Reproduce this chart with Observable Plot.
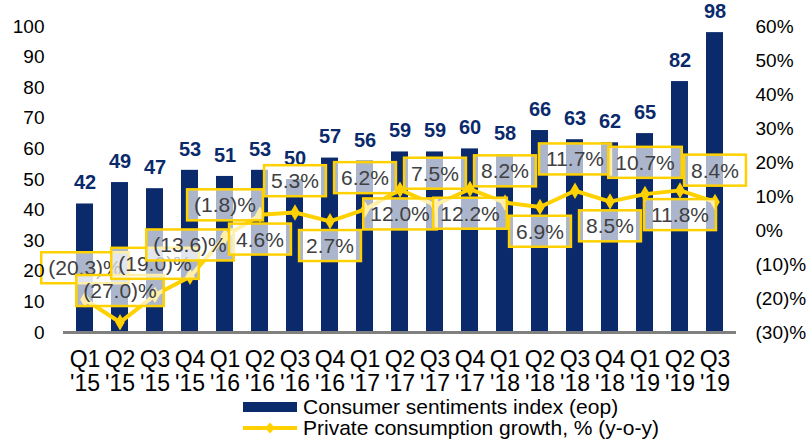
<!DOCTYPE html>
<html><head><meta charset="utf-8">
<script src="https://cdn.jsdelivr.net/npm/d3@7"></script>
<script src="https://cdn.jsdelivr.net/npm/@observablehq/plot@0.6"></script>
<style>
body{margin:0;background:#fff;font-family:"Liberation Sans",Arial,sans-serif;}
#wrap{position:relative;width:812px;height:440px;overflow:hidden;}
#legend{position:absolute;left:0;top:395px;width:812px;height:45px;font-size:21px;color:#000;}
.li{position:absolute;left:243px;display:flex;align-items:center;height:22px;}
.li span{margin-left:6px;white-space:nowrap;}
</style></head><body><div id="wrap"><div id="chart"></div>
<div id="legend">
 <div class="li" style="top:1px"><svg width="54" height="12"><rect x="0" y="1" width="54" height="10" fill="#0a2a6c"/></svg><span>Consumer sentiments index (eop)</span></div>
 <div class="li" style="top:22px"><svg width="54" height="14"><line x1="0" y1="7" x2="54" y2="7" stroke="#FFD100" stroke-width="4"/><path d="M27,1.5 L32,7 L27,12.5 L22,7Z" fill="#FFD100"/></svg><span>Private consumption growth, % (y-o-y)</span></div>
</div></div>
<script>
const quarters = ["Q1 '15","Q2 '15","Q3 '15","Q4 '15","Q1 '16","Q2 '16","Q3 '16","Q4 '16","Q1 '17","Q2 '17","Q3 '17","Q4 '17","Q1 '18","Q2 '18","Q3 '18","Q4 '18","Q1 '19","Q2 '19","Q3 '19"];
const sentiment = [42,49,47,53,51,53,50,57,56,59,59,60,58,66,63,62,65,82,98];
const growth = [-20.3,-27.0,-19.0,-13.6,-1.8,4.6,5.3,2.7,6.2,12.0,7.5,12.2,8.2,6.9,11.7,8.5,10.7,11.8,8.4];
const leftTicks = [0,10,20,30,40,50,60,70,80,90,100];
const rightTicks = [-30,-20,-10,0,10,20,30,40,50,60];

const navy = "#0a2a6c", yellow = "#FFD100", labelGray = "#404041";
const rMin = -30, rMax = 60, lMax = 100;
const toLeft = v => (v - rMin) * lMax / (rMax - rMin);
const fromLeft = v => v * (rMax - rMin) / lMax + rMin;
const pct = v => v < 0 ? `(${(-v)})%` : `${v}%`;
const pct1 = v => v < 0 ? `(${(-v).toFixed(1)})%` : `${v.toFixed(1)}%`;

const data = quarters.map((q, i) => ({q, s: sentiment[i], g: growth[i], gl: toLeft(growth[i]), i}));

const chart = Plot.plot({
  width: 812, height: 395,
  marginLeft: 63, marginRight: 76, marginTop: 26, marginBottom: 63,
  style: {fontFamily: '"Liberation Sans", Arial, sans-serif', fontSize: "19px", color: "#000", background: "#fff", overflow: "visible"},
  x: {domain: quarters, paddingInner: 0.52, paddingOuter: 0.26, label: null},
  y: {domain: [0, 100], label: null},
  marks: [
    Plot.barY(data, {x: "q", y: "s", fill: navy}),
    Plot.ruleY([0], {stroke: "#808080", strokeWidth: 3}),
    Plot.text(data, {x: "q", y: "s", text: d => String(d.s), dy: -21, fill: navy, fontWeight: "bold", fontSize: 20}),
    Plot.line(data, {x: "q", y: "gl", stroke: yellow, strokeWidth: 4}),
    Plot.dot(data, {x: "q", y: "gl", symbol: "diamond", r: 5, fill: yellow}),
    Plot.text(data, {x: "q", y: "gl", text: d => pct1(d.g), fill: labelGray, fontSize: 21}),
    Plot.axisY({ticks: leftTicks, tickSize: 0, tickPadding: 19, fontSize: 19, label: null}),
    Plot.axisY({anchor: "right", ticks: rightTicks.map(toLeft), tickFormat: v => pct(Math.round(fromLeft(v))), tickSize: 0, tickPadding: 19, fontSize: 19, label: null}),
    Plot.axisX({tickFormat: d => d.replace(" ", "\n"), tickSize: 0, tickPadding: 17, fontSize: 23, lineHeight: 1.05, label: null})
  ]
});
document.getElementById("chart").appendChild(chart);

// label boxes behind growth labels
const g = chart.querySelector(`g[fill="${labelGray}"]`);
if (g) {
  const texts = Array.from(g.querySelectorAll("text"));
  texts.forEach((t, i) => {
    const above = i < 5 || i % 2 === 0;
    const off = above ? -31 : 25;
    const tr = (t.getAttribute("transform") || "") + ` translate(0,${off})`;
    t.setAttribute("transform", tr);
    const b = t.getBBox();
    const r = document.createElementNS("http://www.w3.org/2000/svg", "rect");
    r.setAttribute("x", b.x - 7);
    r.setAttribute("y", b.y - 4);
    r.setAttribute("width", b.width + 14);
    r.setAttribute("height", b.height + 8);
    r.setAttribute("transform", tr);
    r.setAttribute("fill", "#fff");
    r.setAttribute("fill-opacity", "0.66");
    r.setAttribute("stroke", yellow);
    r.setAttribute("stroke-width", "2.5");
    g.insertBefore(r, t);
  });
}
</script></body></html>
